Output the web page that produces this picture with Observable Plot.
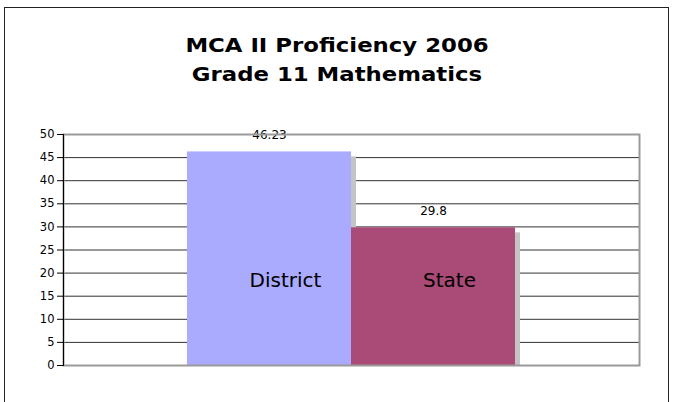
<!DOCTYPE html>
<html>
<head>
<meta charset="utf-8">
<script src="https://cdn.jsdelivr.net/npm/d3@7"></script>
<script src="https://cdn.jsdelivr.net/npm/@observablehq/plot@0.6"></script>
<style>
  html, body { margin: 0; padding: 0; background: #fff; overflow: hidden; }
  #wrap { position: relative; width: 683px; height: 402px; font-family: "DejaVu Sans", Verdana, sans-serif; }
  #border { position: absolute; left: 4px; top: 7px; width: 665px; height: 420px; border: 1px solid #222; box-sizing: border-box; pointer-events: none; }
  .title { position: absolute; left: 4px; width: 666px; text-align: center; font-weight: bold; font-size: 20px; line-height: 24px; color: #000; transform: scaleX(1.14); transform-origin: 333px 50%; }
  #chart { position: absolute; left: 0; top: 0; }
</style>
</head>
<body>
<div id="wrap">
  <div id="chart"></div>
  <div id="border"></div>
  <div class="title" style="top:33px">MCA II Proficiency 2006</div>
  <div class="title" style="top:62px">Grade 11 Mathematics</div>
</div>
<script>
const categories = ["District", "State"];
const values = [46.23, 29.8];
const valueLabels = ["46.23", "29.8"];
const colors = ["#aaaaff", "#a94a77"];
const yTicks = [0, 5, 10, 15, 20, 25, 30, 35, 40, 45, 50];
const gridTicks = [5, 10, 15, 20, 25, 30, 35, 40, 45];

const data = categories.map((c, i) => ({name: c, value: values[i], label: valueLabels[i], color: colors[i]}));

const chart = Plot.plot({
  width: 683,
  height: 402,
  marginLeft: 63,
  marginRight: 44,
  marginTop: 134,
  marginBottom: 37,
  style: {fontFamily: "DejaVu Sans, Verdana, sans-serif", fontSize: "11.5px", color: "#000", background: "transparent"},
  x: {domain: categories, paddingInner: 0, paddingOuter: 0.75, axis: null},
  y: {domain: [0, 50], axis: null},
  marks: [
    Plot.ruleY(gridTicks, {stroke: "#333", strokeWidth: 1}),
    Plot.barY(data, {x: "name", y: "value", fill: "#c4c4c4", dx: 5, dy: 5, clip: true}),
    Plot.barY(data, {x: "name", y: "value", fill: "color"}),
    Plot.text(data, {x: "name", y: "value", text: "label", dy: -17, fontSize: 12, fill: "#000"}),
    Plot.text(data, {x: "name", text: "name", frameAnchor: "bottom", dy: -79, dx: 16, fontSize: 20, fill: "#000"}),
    Plot.frame({stroke: "#9a9a9a", strokeWidth: 2}),
    Plot.frame({anchor: "left", stroke: "#000", strokeWidth: 1}),
    Plot.axisY(yTicks, {tickSize: 6, tickPadding: 3, label: null, fontSize: 11.5, stroke: "#000", fill: "#000"})
  ]
});
document.getElementById("chart").appendChild(chart);
</script>
</body>
</html>
